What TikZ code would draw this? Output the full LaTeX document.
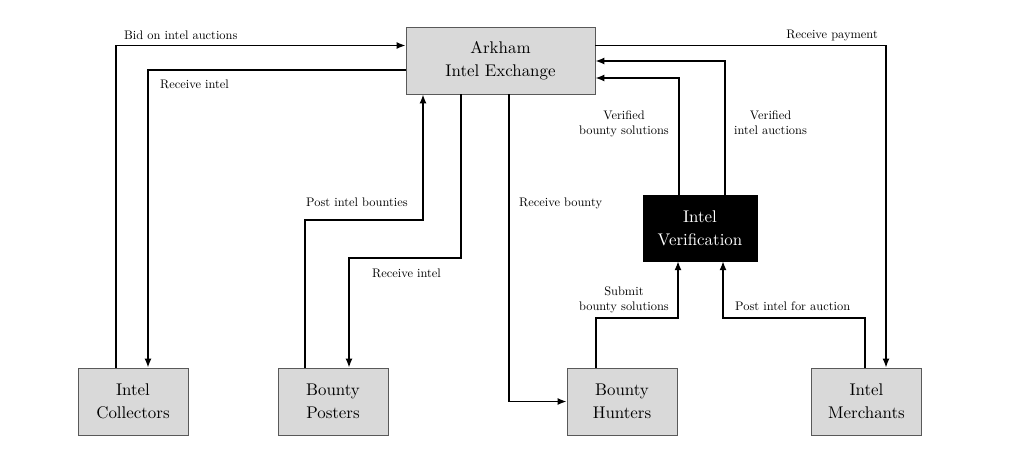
\documentclass[tikz,border=0pt]{standalone}
\usepackage{fontspec}
\setmainfont{lmroman10-regular.otf}
\usetikzlibrary{arrows.meta}
\begin{document}
\begin{tikzpicture}[x=1pt,y=-1pt,
  box/.style={draw=black!65, line width=0.9pt, fill=black!15, align=center, inner sep=0pt,
    font=\fontsize{16.9}{23.3}\selectfont},
  verbox/.style={draw=black, fill=black, text=white, align=center, inner sep=0pt,
    font=\fontsize{16.9}{23.3}\selectfont},
  lab/.style={inner sep=0pt, align=center, font=\fontsize{12.4}{15}\selectfont},
  arr/.style={line width=1.4pt, -{Latex[length=9pt,width=7pt]}},
  ln/.style={line width=1.4pt}]
\useasboundingbox (0,0) rectangle (1024,455);
% nodes
\node[box, minimum width=189pt, minimum height=67pt] (ark) at (500.5,60.5) {Arkham\\Intel Exchange};
\node[verbox, minimum width=114pt, minimum height=66pt] (ver) at (700,228) {Intel\\Verification};
\node[box, minimum width=110pt, minimum height=67pt] (col) at (133,401.5) {Intel\\Collectors};
\node[box, minimum width=110pt, minimum height=67pt] (pos) at (333,401.5) {Bounty\\Posters};
\node[box, minimum width=110pt, minimum height=67pt] (hun) at (622,401.5) {Bounty\\Hunters};
\node[box, minimum width=110pt, minimum height=67pt] (mer) at (866.5,401.5) {Intel\\Merchants};
% connectors
\draw[arr] (col.north -| 116,0) |- (ark.west |- 0,45.5);
\draw[arr] (ark.west |- 0,70) -| (col.north -| 148,0);
\draw[arr] (pos.north -| 305,0) |- (423,220) -- (ark.south -| 423,0);
\draw[arr] (ark.south -| 461,0) |- (349,258) -- (pos.north -| 349,0);
\draw[arr] (ark.south -| 509,0) |- (hun.west);
\draw[arr] (hun.north -| 596,0) |- (678,318) -- (ver.south -| 678,0);
\draw[arr] (mer.north -| 865,0) |- (723,318) -- (ver.south -| 723,0);
\draw[arr] (ver.north -| 679,0) |- (ark.east |- 0,78);
\draw[arr] (ver.north -| 725,0) |- (ark.east |- 0,61);
\draw[arr] (ark.east |- 0,45.5) -| (mer.north -| 886,0);
% labels
\node[lab, anchor=base west] (l1) at (124,39) {Bid on intel auctions};
\node[lab, anchor=base west] (l2) at (160,88) {Receive intel};
\node[lab, anchor=base east] (l3) at (878,38.5) {Receive payment};
\node[lab, anchor=base east] (l4) at (669,134.5) {Verified\\bounty solutions};
\node[lab, anchor=base west] (l5) at (734,134.5) {Verified\\intel auctions};
\node[lab, anchor=base west] (l6) at (306,206.5) {Post intel bounties};
\node[lab, anchor=base west] (l7) at (372,277.5) {Receive intel};
\node[lab, anchor=base west] (l8) at (519,206.5) {Receive bounty};
\node[lab, anchor=base east] (l9) at (669,310) {Submit\\bounty solutions};
\node[lab, anchor=base west] (l10) at (735,310) {Post intel for auction};
\end{tikzpicture}
\end{document}
